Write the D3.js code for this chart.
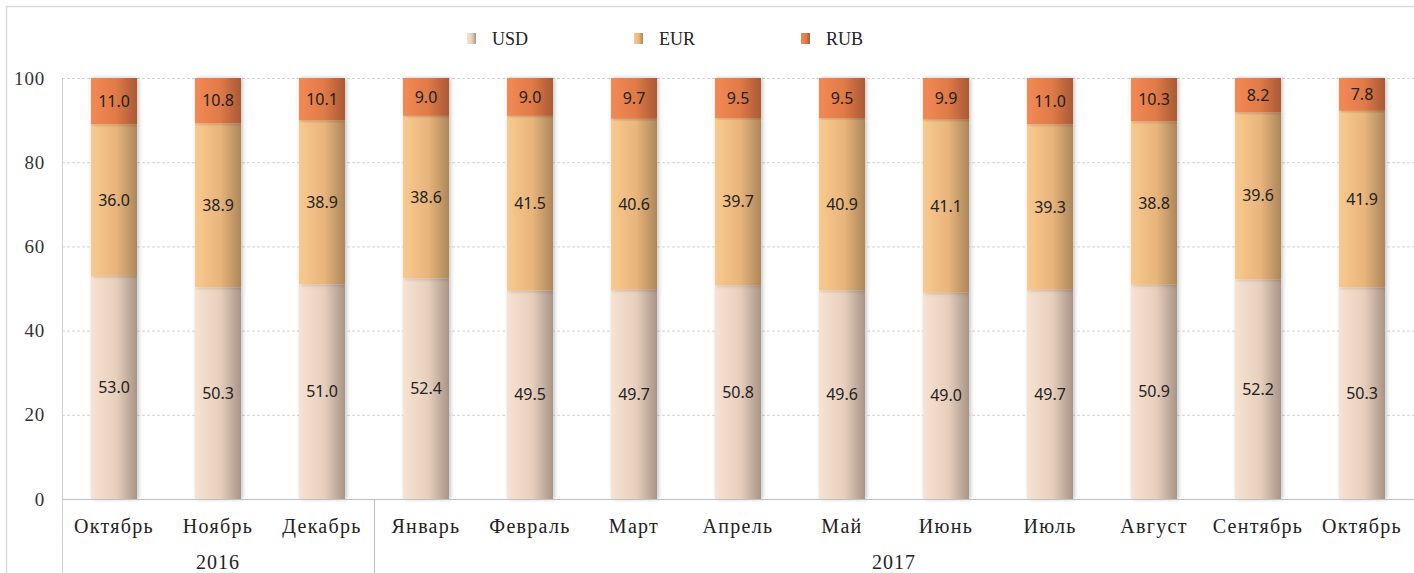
<!DOCTYPE html>
<html>
<head>
<meta charset="utf-8">
<script src="https://cdn.jsdelivr.net/npm/d3@7"></script>
<style>
  body { margin: 0; background: #fff; }
  svg { display: block; }
</style>
</head>
<body>
<div id="container"></div>
<script>
var months = ['Октябрь', 'Ноябрь', 'Декабрь', 'Январь', 'Февраль', 'Март', 'Апрель',
    'Май', 'Июнь', 'Июль', 'Август', 'Сентябрь', 'Октябрь'];
var years = [{ label: '2016', from: 0, to: 3 }, { label: '2017', from: 3, to: 13 }];
var seriesNames = ['USD', 'EUR', 'RUB'];
var usd = [53.0, 50.3, 51.0, 52.4, 49.5, 49.7, 50.8, 49.6, 49.0, 49.7, 50.9, 52.2, 50.3];
var eur = [36.0, 38.9, 38.9, 38.6, 41.5, 40.6, 39.7, 40.9, 41.1, 39.3, 38.8, 39.6, 41.9];
var rub = [11.0, 10.8, 10.1, 9.0, 9.0, 9.7, 9.5, 9.5, 9.9, 11.0, 10.3, 8.2, 7.8];
var yTicks = [0, 20, 40, 60, 80, 100];

var width = 1414,
    height = 573;
// plot box (note: "top" is reserved on window, so use own names)
var pLeft = 62, pRight = 1414, pTop = 78, pBottom = 499;

// gradient colours, left -> right of each bar
var grads = {
    USD: ['#f8e2d0', '#e6cfbd', '#a99487'],
    EUR: ['#f9c98e', '#e8b57c', '#ad8659'],
    RUB: ['#f28a55', '#e07a47', '#a95a35']
};

var svg = d3.select("#container").append("svg")
    .attr("width", width)
    .attr("height", height);

var defs = svg.append('defs');
seriesNames.forEach(function (s) {
    var lg = defs.append('linearGradient').attr('id', 'g-' + s)
        .attr('x1', '0%').attr('x2', '100%').attr('y1', '0%').attr('y2', '0%');
    lg.append('stop').attr('offset', '0%').attr('stop-color', grads[s][0]);
    lg.append('stop').attr('offset', '55%').attr('stop-color', grads[s][1]);
    lg.append('stop').attr('offset', '100%').attr('stop-color', grads[s][2]);
});
var f = defs.append('filter').attr('id', 'shadow')
    .attr('x', '-30%').attr('y', '-5%').attr('width', '160%').attr('height', '110%');
f.append('feDropShadow').attr('dx', 1.5).attr('dy', 0).attr('stdDeviation', 2)
    .attr('flood-color', '#000').attr('flood-opacity', 0.25);

// outer frame
svg.append('path')
    .attr('d', 'M6.5,' + height + 'V6.5H' + width)
    .attr('fill', 'none').attr('stroke', '#d9d9d9').attr('stroke-width', 1.5);

var x = d3.scaleBand().domain(d3.range(months.length)).range([pLeft, pRight]).padding(0);
var y = d3.scaleLinear().domain([0, 100]).range([pBottom, pTop]);
var barW = 46;

// gridlines
svg.append('g').selectAll('line').data(yTicks.filter(function (d) { return d > 0; }))
    .enter().append('line')
    .attr('x1', pLeft).attr('x2', pRight)
    .attr('y1', function (d) { return y(d) + 0.5; })
    .attr('y2', function (d) { return y(d) + 0.5; })
    .attr('stroke', '#d4d4d4').attr('stroke-dasharray', '3,2');

// y axis labels
var yAxis = d3.axisLeft(y).tickValues(yTicks).tickSize(0).tickPadding(17);
var ya = svg.append('g').attr('transform', 'translate(' + pLeft + ',0)').call(yAxis);
ya.select('.domain').remove();
ya.selectAll('text')
    .style('font-family', '"Liberation Serif", serif')
    .style('font-size', '19px').style('letter-spacing', '0.8px').attr('fill', '#333');

// stacked data
var table = months.map(function (m, i) { return { i: i, USD: usd[i], EUR: eur[i], RUB: rub[i] }; });
var stack = d3.stack().keys(seriesNames)(table);

var layers = svg.append('g').selectAll('g').data(stack).enter().append('g');
layers.selectAll('rect').data(function (d) { return d; })
    .enter().append('rect')
    .attr('x', function (d) { return x(d.data.i) + (x.bandwidth() - barW) / 2; })
    .attr('width', barW)
    .attr('y', function (d) { return y(Math.min(d[1], 100)); })
    .attr('height', function (d) { return y(d[0]) - y(Math.min(d[1], 100)); })
    .attr('fill', function () { return 'url(#g-' + d3.select(this.parentNode).datum().key + ')'; })
    .attr('filter', 'url(#shadow)');

// value labels
layers.selectAll('text').data(function (d) { return d; })
    .enter().append('text')
    .attr('x', function (d) { return x(d.data.i) + x.bandwidth() / 2; })
    .attr('y', function (d) { return (y(d[0]) + y(Math.min(d[1], 100))) / 2; })
    .attr('dy', '0.35em')
    .attr('text-anchor', 'middle')
    .style('font-family', '"Noto Sans", sans-serif')
    .style('font-size', '16px')
    .attr('fill', '#222')
    .text(function (d) { return (d[1] - d[0]).toFixed(1); });

// axes lines
svg.append('line').attr('x1', pLeft).attr('x2', pRight).attr('y1', pBottom + 0.5).attr('y2', pBottom + 0.5)
    .attr('stroke', '#bfbfbf');
svg.append('line').attr('x1', pLeft + 0.5).attr('x2', pLeft + 0.5).attr('y1', pTop).attr('y2', height)
    .attr('stroke', '#d0d0d0');
svg.append('line').attr('x1', x(3) + 0.5).attr('x2', x(3) + 0.5).attr('y1', pBottom).attr('y2', height)
    .attr('stroke', '#bfbfbf');

// month labels
svg.append('g').selectAll('text').data(months).enter().append('text')
    .attr('x', function (d, i) { return x(i) + x.bandwidth() / 2; })
    .attr('y', 533)
    .attr('text-anchor', 'middle')
    .style('font-family', '"Liberation Serif", serif')
    .style('font-size', '20px')
    .style('letter-spacing', '1.3px')
    .attr('fill', '#222')
    .text(function (d) { return d; });

// year labels
svg.append('g').selectAll('text').data(years).enter().append('text')
    .attr('x', function (d) { return (x(d.from) + (d.to < months.length ? x(d.to) : pRight)) / 2; })
    .attr('y', 569)
    .attr('text-anchor', 'middle')
    .style('font-family', '"Liberation Serif", serif')
    .style('font-size', '20px')
    .style('letter-spacing', '1px')
    .attr('fill', '#222')
    .text(function (d) { return d.label; });

// legend
var legend = svg.append('g').selectAll('g').data(seriesNames).enter().append('g')
    .attr('transform', function (d, i) { return 'translate(' + (467 + i * 167) + ',33)'; });
legend.append('rect').attr('width', 9).attr('height', 11)
    .attr('fill', function (d) { return 'url(#g-' + d + ')'; });
legend.append('text').attr('x', 25).attr('y', 6).attr('dy', '0.35em')
    .style('font-family', '"Liberation Serif", serif')
    .style('font-size', '18px')
    .attr('fill', '#222')
    .text(function (d) { return d; });
</script>
</body>
</html>
